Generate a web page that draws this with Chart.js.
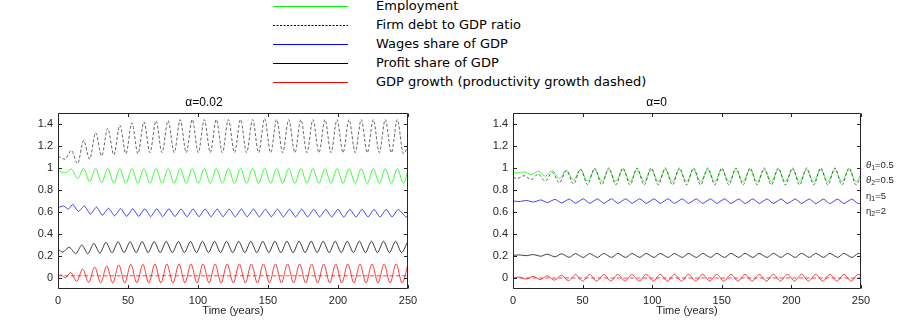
<!DOCTYPE html>
<html>
<head>
<meta charset="utf-8">
<script src="https://cdn.jsdelivr.net/npm/chart.js@4.4.1/dist/chart.umd.min.js"></script>
<style>
  body { margin: 0; background: #fff; width: 904px; height: 320px; overflow: hidden; position: relative; }
  canvas { position: absolute; top: 0; }
  #left { left: 0; }
  #right { left: 452px; }
  .leg { position: absolute; left: 376px; height: 16px; line-height: 16px; font: 13px "DejaVu Sans", sans-serif; color: #000; white-space: nowrap; }
  #legLines { position: absolute; left: 0; top: 0; }
  .ann { position: absolute; left: 866px; font: 9.5px "Liberation Sans", Arial, sans-serif; color: #262626; white-space: nowrap; line-height: 12px; }
  .ann i { font-style: italic; }
  .ann sub { font-size: 7px; vertical-align: -2px; line-height: 0; }
</style>
</head>
<body>
<svg id="legLines" width="904" height="92"></svg>
<div id="legText"></div>
<canvas id="left" width="452" height="320"></canvas>
<canvas id="right" width="452" height="320"></canvas>
<div class="ann" style="top:159px"><i>θ</i><sub>1</sub>=0.5</div>
<div class="ann" style="top:174px"><i>θ</i><sub>2</sub>=0.5</div>
<div class="ann" style="top:190px">η<sub>1</sub>=5</div>
<div class="ann" style="top:205px">η<sub>2</sub>=2</div>
<script>
const legendLabels = [
  "Employment",
  "Firm debt to GDP ratio",
  "Wages share of GDP",
  "Profit share of GDP",
  "GDP growth (productivity growth dashed)",
];
const titles = ["\u03b1=0.02", "\u03b1=0"];
const xTicks = [0, 50, 100, 150, 200, 250];
const yTicks = [0, 0.2, 0.4, 0.6, 0.8, 1, 1.2, 1.4];

// alpha = 0.02  ([time, value] at the turning points)
const employmentL = [[0,0.975],[5,0.955],[9.5,0.99],[14,0.905],[18.3,0.995],[22.6,0.875],[26.9,0.995],[31.2,0.865],[35.5,0.995],[39.9,0.86],[44.2,0.995],[48.5,0.86],[52.8,0.995],[57.1,0.86],[61.4,0.995],[65.7,0.86],[70,0.995],[74.3,0.86],[78.6,0.995],[83,0.86],[87.3,0.995],[91.6,0.86],[95.9,0.995],[100.2,0.86],[104.5,0.995],[108.8,0.86],[113.1,0.995],[117.4,0.86],[121.7,0.995],[126.1,0.86],[130.4,0.995],[134.7,0.86],[139,0.995],[143.3,0.86],[147.6,0.995],[151.9,0.86],[156.2,0.995],[160.5,0.86],[164.8,0.995],[169.2,0.86],[173.5,0.995],[177.8,0.86],[182.1,0.995],[186.4,0.86],[190.7,0.995],[195,0.86],[199.3,0.995],[203.6,0.86],[207.9,0.995],[212.3,0.86],[216.6,0.995],[220.9,0.86],[225.2,0.995],[229.5,0.86],[233.8,0.995],[238.1,0.86],[242.4,0.995],[246.7,0.86],[250,0.975]];
const debtL = [[0,1.11],[5,1.08],[9.5,1.16],[14,1.04],[18.3,1.25],[22.6,1.08],[26.9,1.32],[31.2,1.11],[35.5,1.36],[39.9,1.12],[44.2,1.39],[48.5,1.13],[52.8,1.41],[57.1,1.13],[61.4,1.42],[65.7,1.14],[70,1.43],[74.3,1.14],[78.6,1.43],[83,1.14],[87.3,1.44],[91.6,1.14],[95.9,1.44],[100.2,1.14],[104.5,1.44],[108.8,1.14],[113.1,1.44],[117.4,1.14],[121.7,1.44],[126.1,1.14],[130.4,1.44],[134.7,1.14],[139,1.44],[143.3,1.14],[147.6,1.45],[151.9,1.14],[156.2,1.44],[160.5,1.14],[164.8,1.44],[169.2,1.14],[173.5,1.44],[177.8,1.14],[182.1,1.44],[186.4,1.14],[190.7,1.44],[195,1.14],[199.3,1.44],[203.6,1.14],[207.9,1.44],[212.3,1.14],[216.6,1.44],[220.9,1.14],[225.2,1.44],[229.5,1.14],[233.8,1.44],[238.1,1.14],[242.4,1.44],[246.7,1.13],[250,1.2]];
const wagesL = [[0,0.64],[4,0.655],[7.5,0.625],[10.5,0.67],[14.5,0.605],[18.9,0.655],[23.1,0.58],[27.5,0.645],[31.7,0.57],[36.1,0.635],[40.4,0.565],[44.8,0.632],[49,0.56],[53.4,0.63],[57.6,0.56],[62,0.63],[66.2,0.558],[70.6,0.63],[74.8,0.558],[79.2,0.63],[83.5,0.558],[87.9,0.628],[92.1,0.557],[96.5,0.628],[100.7,0.557],[105.1,0.628],[109.3,0.557],[113.7,0.628],[117.9,0.557],[122.3,0.627],[126.6,0.556],[131,0.627],[135.2,0.556],[139.6,0.627],[143.8,0.556],[148.2,0.626],[152.4,0.556],[156.8,0.626],[161,0.555],[165.4,0.626],[169.7,0.555],[174.1,0.626],[178.3,0.555],[182.7,0.625],[186.9,0.555],[191.3,0.625],[195.5,0.555],[199.9,0.625],[204.1,0.554],[208.5,0.625],[212.8,0.554],[217.2,0.625],[221.4,0.554],[225.8,0.625],[230,0.554],[234.4,0.624],[238.6,0.554],[243,0.624],[248.5,0.554],[250,0.562]];
const profitL = [[0,0.26],[3.5,0.235],[8,0.28],[12.7,0.22],[17,0.3],[21.3,0.22],[25.6,0.315],[29.9,0.225],[34.2,0.325],[38.6,0.228],[42.9,0.33],[47.2,0.23],[51.5,0.33],[55.8,0.23],[60.1,0.332],[64.4,0.23],[68.7,0.332],[73,0.23],[77.3,0.333],[81.7,0.23],[86,0.333],[90.3,0.23],[94.6,0.333],[98.9,0.23],[103.2,0.334],[107.5,0.23],[111.8,0.334],[116.1,0.23],[120.4,0.334],[124.8,0.23],[129.1,0.334],[133.4,0.23],[137.7,0.334],[142,0.23],[146.3,0.334],[150.6,0.23],[154.9,0.335],[159.2,0.23],[163.5,0.335],[167.9,0.23],[172.2,0.335],[176.5,0.23],[180.8,0.335],[185.1,0.23],[189.4,0.335],[193.7,0.23],[198,0.335],[202.3,0.23],[206.6,0.335],[211,0.23],[215.3,0.335],[219.6,0.23],[223.9,0.335],[228.2,0.23],[232.5,0.335],[236.8,0.23],[241.1,0.335],[245.4,0.23],[250,0.335]];
const growthL = [[0,0.02],[2.5,0.028],[5,0],[9,0.05],[13.3,-0.03],[17.6,0.08],[21.9,-0.04],[26.2,0.1],[30.5,-0.045],[34.8,0.11],[39.1,-0.045],[43.4,0.12],[47.7,-0.045],[52,0.125],[56.3,-0.045],[60.6,0.125],[64.9,-0.045],[69.2,0.127],[73.5,-0.045],[77.8,0.127],[82.1,-0.045],[86.4,0.127],[90.7,-0.045],[95,0.128],[99.3,-0.045],[103.6,0.128],[107.9,-0.045],[112.2,0.128],[116.5,-0.045],[120.8,0.128],[125.2,-0.045],[129.5,0.128],[133.8,-0.045],[138.1,0.128],[142.4,-0.045],[146.7,0.128],[151,-0.045],[155.3,0.128],[159.6,-0.045],[163.9,0.128],[168.3,-0.045],[172.6,0.128],[176.9,-0.045],[181.2,0.128],[185.5,-0.045],[189.8,0.128],[194.1,-0.045],[198.4,0.128],[202.7,-0.045],[207,0.128],[211.4,-0.045],[215.7,0.128],[220,-0.045],[224.3,0.128],[228.6,-0.045],[232.9,0.128],[237.2,-0.045],[241.5,0.128],[245.8,-0.045],[250,0.125]];
const productivityL = [[0,0.02],[250,0.02]];

// alpha = 0
const employmentR = [[0,0.965],[2.8,0.955],[7.9,0.965],[13,0.94],[18.1,0.97],[23.2,0.925],[28.2,0.975],[33.3,0.905],[38.4,0.98],[43.5,0.89],[48.5,0.985],[53.6,0.88],[58.7,0.985],[63.8,0.878],[68.8,0.985],[73.9,0.877],[79,0.985],[84.1,0.876],[89.1,0.985],[94.2,0.876],[99.3,0.985],[104.4,0.876],[109.4,0.985],[114.5,0.876],[119.6,0.985],[124.7,0.876],[129.7,0.985],[134.8,0.876],[139.9,0.985],[145,0.876],[150,0.985],[155.1,0.876],[160.2,0.985],[165.3,0.876],[170.3,0.985],[175.4,0.876],[180.5,0.985],[185.6,0.876],[190.6,0.985],[195.7,0.876],[200.8,0.985],[205.9,0.876],[210.9,0.985],[216,0.876],[221.1,0.985],[226.2,0.876],[231.2,0.985],[236.3,0.876],[241.4,0.985],[246.5,0.876],[250,0.95]];
const debtR = [[0,0.915],[2.8,0.905],[7.9,0.93],[13,0.895],[18.1,0.945],[23.2,0.88],[28.2,0.96],[33.3,0.865],[38.4,0.975],[43.5,0.855],[48.5,0.99],[53.6,0.85],[58.7,0.998],[63.8,0.848],[68.8,1],[73.9,0.848],[79,1],[84.1,0.847],[89.1,1],[94.2,0.847],[99.3,1],[104.4,0.847],[109.4,1],[114.5,0.847],[119.6,1],[124.7,0.847],[129.7,1],[134.8,0.847],[139.9,1],[145,0.847],[150,1],[155.1,0.847],[160.2,1],[165.3,0.847],[170.3,1],[175.4,0.847],[180.5,1],[185.6,0.847],[190.6,1],[195.7,0.847],[200.8,1],[205.9,0.847],[210.9,1],[216,0.847],[221.1,1],[226.2,0.847],[231.2,1],[236.3,0.847],[241.4,1],[246.5,0.847],[250,0.93]];
const wagesR = [[0,0.7],[4.3,0.695],[9.9,0.705],[14.5,0.69],[20.1,0.71],[24.6,0.686],[30.2,0.715],[34.8,0.682],[40.4,0.718],[44.9,0.68],[50.5,0.72],[55.1,0.679],[60.7,0.72],[65.2,0.679],[70.8,0.72],[75.4,0.679],[81,0.72],[85.5,0.679],[91.1,0.72],[95.7,0.678],[101.3,0.72],[105.8,0.678],[111.4,0.72],[116,0.678],[121.6,0.72],[126.1,0.678],[131.7,0.72],[136.3,0.678],[141.9,0.72],[146.4,0.678],[152,0.72],[156.6,0.677],[162.2,0.719],[166.7,0.677],[172.3,0.719],[176.9,0.677],[182.5,0.719],[187,0.677],[192.6,0.719],[197.2,0.677],[202.8,0.719],[207.3,0.677],[212.9,0.719],[217.5,0.676],[223.1,0.718],[227.6,0.676],[233.2,0.718],[237.8,0.676],[243.4,0.718],[247.9,0.676],[250,0.68]];
const profitR = [[0,0.205],[4.3,0.21],[9.9,0.203],[14.5,0.213],[20.1,0.198],[24.6,0.217],[30.2,0.192],[34.8,0.22],[40.4,0.188],[44.9,0.222],[50.5,0.187],[55.1,0.222],[60.7,0.187],[65.2,0.223],[70.8,0.187],[75.4,0.223],[81,0.187],[85.5,0.223],[91.1,0.187],[95.7,0.223],[101.3,0.187],[105.8,0.223],[111.4,0.187],[116,0.223],[121.6,0.187],[126.1,0.223],[131.7,0.187],[136.3,0.223],[141.9,0.187],[146.4,0.224],[152,0.187],[156.6,0.224],[162.2,0.187],[166.7,0.224],[172.3,0.187],[176.9,0.224],[182.5,0.187],[187,0.224],[192.6,0.187],[197.2,0.224],[202.8,0.187],[207.3,0.224],[212.9,0.187],[217.5,0.224],[223.1,0.187],[227.6,0.224],[233.2,0.187],[237.8,0.224],[243.4,0.187],[247.9,0.224],[250,0.22]];
const growthR = [[0,-0.003],[4.3,0.008],[9.4,-0.01],[14.5,0.015],[19.6,-0.015],[24.6,0.02],[29.7,-0.02],[34.8,0.025],[39.9,-0.025],[44.9,0.03],[50,-0.028],[55.1,0.032],[60.2,-0.028],[65.2,0.032],[70.3,-0.028],[75.4,0.032],[80.5,-0.028],[85.5,0.032],[90.6,-0.028],[95.7,0.033],[100.8,-0.028],[105.8,0.033],[110.9,-0.028],[116,0.033],[121.1,-0.028],[126.1,0.033],[131.2,-0.028],[136.3,0.033],[141.4,-0.028],[146.4,0.033],[151.5,-0.028],[156.6,0.033],[161.7,-0.028],[166.7,0.033],[171.8,-0.028],[176.9,0.033],[182,-0.028],[187,0.033],[192.1,-0.028],[197.2,0.033],[202.3,-0.028],[207.3,0.033],[212.4,-0.028],[217.5,0.033],[222.6,-0.028],[227.6,0.033],[232.7,-0.028],[237.8,0.033],[242.9,-0.028],[247.9,0.033],[250,0.028]];
const productivityR = [[0,0],[250,0]];

const axisColor = "#262626";
const tickFont = { family: "'Liberation Sans', Arial, sans-serif", size: 11 };

// legend (drawn as html/svg, lines 273..348)
const legendStyles = [
  { color: "#00ff00", dash: "" },
  { color: "#000", dash: "2 1.5" },
  { color: "#0000ff", dash: "" },
  { color: "#000", dash: "" },
  { color: "#ff0000", dash: "" },
];
const legendRows = [6, 25, 44, 63, 82];
let svg = "";
let html = "";
legendLabels.forEach((label, i) => {
  const y = legendRows[i] + 0.5;
  svg += `<line x1="273" x2="348" y1="${y}" y2="${y}" stroke="${legendStyles[i].color}" stroke-width="1" stroke-dasharray="${legendStyles[i].dash}"/>`;
  html += `<div class="leg" style="top:${legendRows[i] - 8}px">${label}</div>`;
});
document.getElementById("legLines").innerHTML = svg;
document.getElementById("legText").innerHTML = html;

// MATLAB-like box with inward ticks on all four sides
const boxPlugin = {
  id: "box",
  afterDatasetsDraw(chart) {
    const { ctx, chartArea: a, scales } = chart;
    const l = Math.round(a.left) + 0.5, r = Math.round(a.right) - 0.5;
    const t = Math.round(a.top) + 0.5, b = Math.round(a.bottom) - 0.5;
    const len = 3.5;
    ctx.save();
    ctx.strokeStyle = axisColor;
    ctx.lineWidth = 1;
    ctx.beginPath();
    ctx.rect(l, t, r - l, b - t);
    xTicks.forEach((v) => {
      const px = Math.round(scales.x.getPixelForValue(v)) + 0.5;
      ctx.moveTo(px, b); ctx.lineTo(px, b - len);
      ctx.moveTo(px, t); ctx.lineTo(px, t + len);
    });
    yTicks.forEach((v) => {
      const py = Math.round(scales.y.getPixelForValue(v)) + 0.5;
      ctx.moveTo(l, py); ctx.lineTo(l + len, py);
      ctx.moveTo(r, py); ctx.lineTo(r - len, py);
    });
    ctx.stroke();
    ctx.restore();
  },
};

function line(data, color, opts = {}) {
  return Object.assign({
    data,
    borderColor: color,
    borderWidth: 0.75,
    pointRadius: 0,
    fill: false,
    cubicInterpolationMode: "monotone",
  }, opts);
}

function makeChart(id, title, s, axisWidth, rightPad) {
  return new Chart(document.getElementById(id), {
    type: "line",
    data: {
      datasets: [
        line(s.debt, "#333", { borderDash: [3, 2], order: 0 }),
        line(s.employment, "#00ff00", { order: 1 }),
        line(s.wages, "#0000ff", { order: 2, cubicInterpolationMode: "default", tension: 0.15 }),
        line(s.profit, "#000", { order: 3, cubicInterpolationMode: "default", tension: 0.25 }),
        line(s.productivity, "#ff0000", { borderDash: [4, 2.5], order: 4 }),
        line(s.growth, "#ff0000", { order: 5 }),
      ],
    },
    options: {
      responsive: false,
      animation: false,
      layout: { padding: { top: 95.6, left: 0, right: rightPad, bottom: 0 } },
      plugins: {
        legend: { display: false },
        tooltip: { enabled: false },
        title: {
          display: true,
          text: title,
          color: "#000",
          font: { family: "'Liberation Sans', Arial, sans-serif", size: 12, weight: "normal" },
          padding: { top: 0, bottom: 3 },
        },
      },
      scales: {
        x: {
          type: "linear",
          min: 0,
          max: 250,
          grid: { display: false, drawTicks: false },
          border: { display: false },
          afterBuildTicks: (scale) => { scale.ticks = xTicks.map((v) => ({ value: v })); },
          afterFit: (scale) => { scale.height = 31; },
          ticks: { color: axisColor, font: tickFont, padding: 5, maxRotation: 0, autoSkip: false },
          title: { display: true, text: "Time (years)", color: axisColor, font: tickFont, padding: { top: 0, bottom: 2 } },
        },
        y: {
          type: "linear",
          min: -0.1,
          max: 1.5,
          grid: { display: false, drawTicks: false },
          border: { display: false },
          afterBuildTicks: (scale) => { scale.ticks = yTicks.map((v) => ({ value: v })); },
          afterFit: (scale) => { scale.width = axisWidth; },
          ticks: { color: axisColor, font: tickFont, padding: 5, autoSkip: false, callback: (v) => String(v) },
        },
      },
    },
    plugins: [boxPlugin],
  });
}

makeChart("left", titles[0], {
  employment: employmentL, debt: debtL, wages: wagesL,
  profit: profitL, growth: growthL, productivity: productivityL,
}, 58, 44);

makeChart("right", titles[1], {
  employment: employmentR, debt: debtR, wages: wagesR,
  profit: profitR, growth: growthR, productivity: productivityR,
}, 61, 43);
</script>
</body>
</html>
